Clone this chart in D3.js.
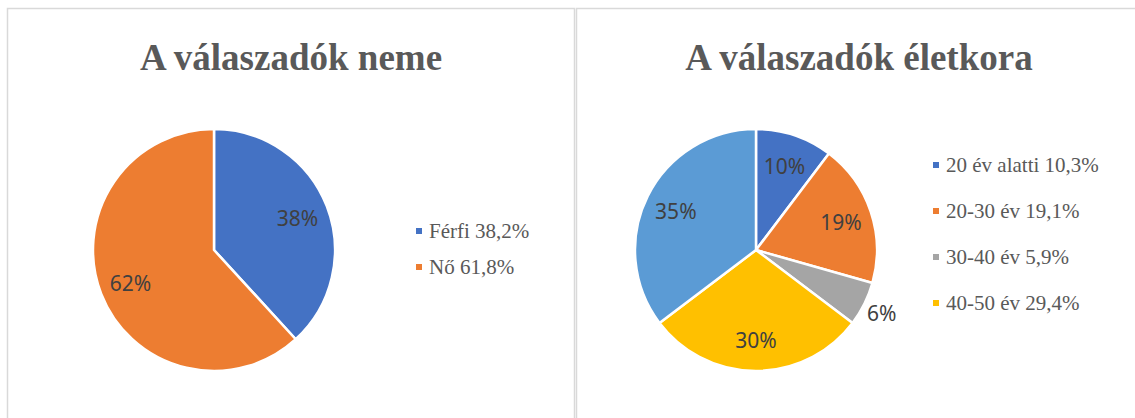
<!DOCTYPE html>
<html>
<head>
<meta charset="utf-8">
<script src="https://cdn.jsdelivr.net/npm/d3@7"></script>
<style>
  body { margin: 0; background: #fff; }
  svg { display: block; }
</style>
</head>
<body>
<svg id="chart" width="1135" height="418"></svg>
<script>
// Data
const genderNames = ['Férfi', 'Nő']
const genderValues = [38.2, 61.8]
const genderShown = ['38%', '62%']
const genderLegend = ['Férfi 38,2%', 'Nő 61,8%']

const ageNames = ['20 év alatti', '20-30 év', '30-40 év', '40-50 év', '50 év felett']
const ageValues = [10.3, 19.1, 5.9, 29.4, 35.3]
const ageShown = ['10%', '19%', '6%', '30%', '35%']
// legend is cut off after four entries in the original
const ageLegend = ['20 év alatti 10,3%', '20-30 év 19,1%', '30-40 év 5,9%', '40-50 év 29,4%']

const colors = ['#4472C4', '#ED7D31', '#A5A5A5', '#FFC000', '#5B9BD5']

const svg = d3.select('#chart')

// Panel frames
const frame = svg.append('g')
  .attr('fill', 'none')
  .attr('stroke', '#d9d9d9')
  .attr('stroke-width', 1.5)
frame.append('rect').attr('x', 7.5).attr('y', 8.5).attr('width', 567).attr('height', 430)
frame.append('rect').attr('x', 576.5).attr('y', 8.5).attr('width', 567).attr('height', 430)

function drawPanel (opts) {
  let g = svg.append('g')

  g.append('text')
    .attr('x', opts.cx0)
    .attr('y', 70)
    .attr('text-anchor', 'middle')
    .style('font-family', '"Liberation Serif", "Times New Roman", serif')
    .style('font-weight', 'bold')
    .style('font-size', '37px')
    .style('fill', '#595959')
    .text(opts.title)

  let r = 121
  let pie = d3.pie().sort(null).value(d => d)
  let arc = d3.arc().innerRadius(0).outerRadius(r)
  let arcs = pie(opts.values)

  let pg = g.append('g').attr('transform', `translate(${opts.cx},${opts.cy})`)

  pg.selectAll('path')
    .data(arcs)
    .join('path')
    .attr('d', arc)
    .attr('fill', (d, i) => colors[i])
    .attr('stroke', '#fff')
    .attr('stroke-width', 2.5)
    .attr('stroke-linejoin', 'round')

  // Data labels: inside for big slices, outside for tiny ones
  pg.selectAll('text.lbl')
    .data(arcs)
    .join('text')
    .attr('class', 'lbl')
    .attr('transform', d => {
      let a = (d.startAngle + d.endAngle) / 2
      let share = (d.endAngle - d.startAngle) / (2 * Math.PI)
      let k = share < 0.08 ? 1.16 : 0.74
      return `translate(${Math.sin(a) * r * k},${-Math.cos(a) * r * k})`
    })
    .attr('text-anchor', 'middle')
    .attr('dy', '0.4em')
    .style('font-family', '"Noto Sans", "Open Sans", sans-serif')
    .style('font-size', '21px')
    .style('fill', '#404040')
    .text((d, i) => opts.shown[i])

  let lg = g.append('g')
  let rows = lg.selectAll('g')
    .data(opts.legend)
    .join('g')
    .attr('transform', (d, i) => `translate(${opts.lx},${opts.ly + i * opts.lstep})`)

  rows.append('rect')
    .attr('x', 0).attr('y', -3)
    .attr('width', 6).attr('height', 6)
    .attr('fill', (d, i) => colors[i])

  rows.append('text')
    .attr('x', 13)
    .attr('dy', '0.33em')
    .style('font-family', '"Liberation Serif", "Times New Roman", serif')
    .style('font-size', '21px')
    .style('fill', '#595959')
    .text(d => d)
}

drawPanel({
  title: 'A válaszadók neme',
  cx0: 291, cx: 214, cy: 250,
  values: genderValues, shown: genderShown,
  legend: genderLegend, lx: 416, ly: 231, lstep: 36
})

drawPanel({
  title: 'A válaszadók életkora',
  cx0: 859, cx: 756, cy: 250,
  values: ageValues, shown: ageShown,
  legend: ageLegend, lx: 933, ly: 165, lstep: 46
})
</script>
</body>
</html>
